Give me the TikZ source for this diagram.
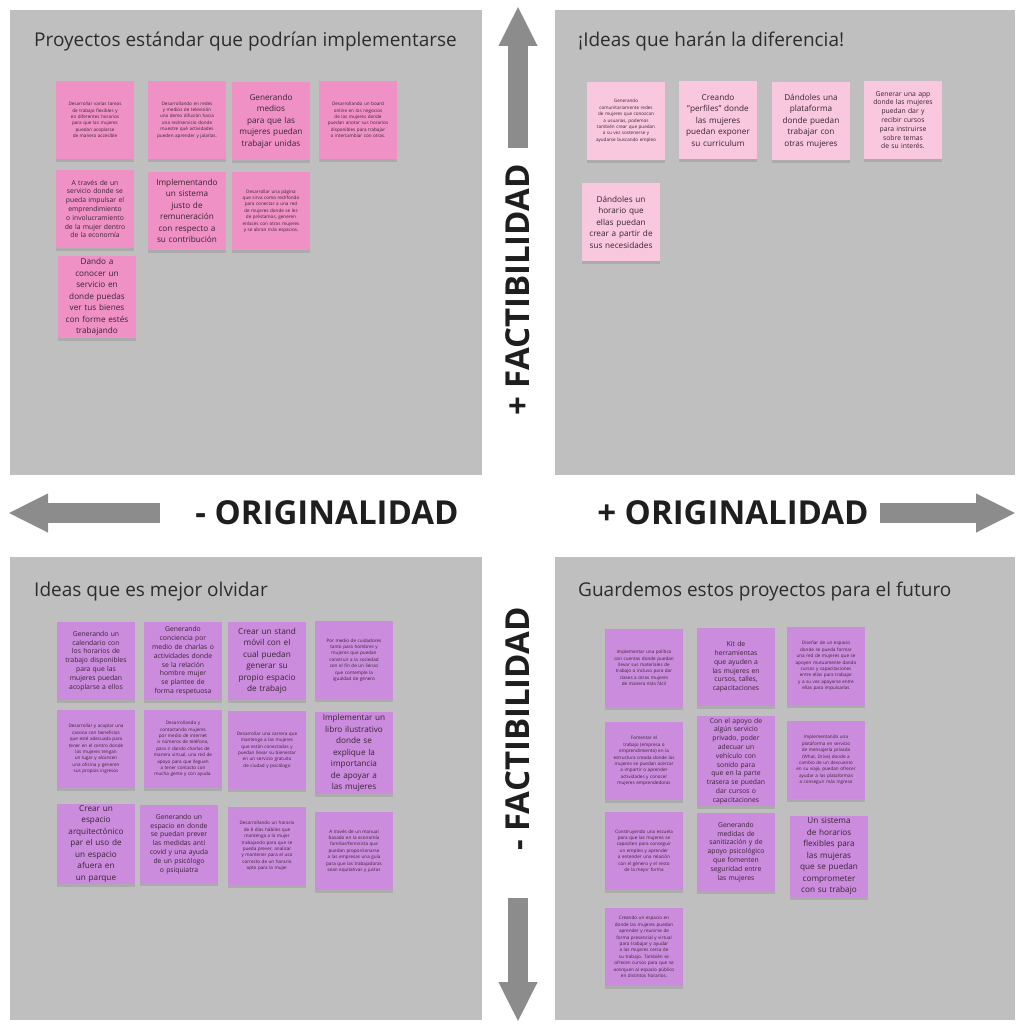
\documentclass[tikz,border=0pt]{standalone}
\usepackage{fontspec}
\setmainfont{Open Sans}
\usetikzlibrary{arrows.meta,shadows}
\definecolor{panelgray}{RGB}{191,191,191}
\definecolor{arrowgray}{RGB}{140,140,140}
\definecolor{labeltext}{RGB}{30,30,30}
\definecolor{titletext}{RGB}{45,45,45}
\definecolor{notetext}{RGB}{55,35,50}
\definecolor{notepink}{RGB}{240,145,198}
\definecolor{notelight}{RGB}{250,200,222}
\definecolor{noteviolet}{RGB}{204,140,222}
\hyphenpenalty=10000
\exhyphenpenalty=10000

\begin{document}
\begin{tikzpicture}[x=1pt,y=-1pt,
	note/.style={minimum width=78pt, minimum height=78pt, inner sep=2pt, align=center, text=notetext, drop shadow={shadow xshift=0pt, shadow yshift=-3pt, opacity=0.3}},
	pinknote/.style={note, fill=notepink},
	lightnote/.style={note, fill=notelight},
	violetnote/.style={note, fill=noteviolet},
	bigtext/.style={text width=64pt, font=\fontsize{8.2}{11.5}\selectfont},
	midtext/.style={text width=62pt, font=\fontsize{6.8}{8.8}\selectfont},
	smalltext/.style={text width=62pt, font=\fontsize{4.6}{6.4}\selectfont},
	bigarrow/.style={line width=20pt, draw=arrowgray, -{Triangle[length=40pt, width=36pt]}},
	axislabel/.style={font=\bfseries\fontsize{33}{36}\selectfont, text=labeltext},
	quadtitle/.style={anchor=west, inner sep=0pt, font=\fontsize{19}{23}\selectfont, text=titletext}]
						\useasboundingbox (0,0) rectangle (1015,1025);
						\fill[panelgray] (10,10) rectangle (482,475);
						\fill[panelgray] (555,10) rectangle (1015,475);
						\fill[panelgray] (10,557) rectangle (482,1020);
						\fill[panelgray] (555,557) rectangle (1015,1020);
						\node[quadtitle] (tltitle) at (34,42) {Proyectos estándar que podrían implementarse};
						\node[quadtitle] (trtitle) at (578,42) {¡Ideas que harán la diferencia!};
						\node[quadtitle] (bltitle) at (34,592) {Ideas que es mejor olvidar};
						\node[quadtitle] (brtitle) at (578,592) {Guardemos estos proyectos para el futuro};
						\coordinate (up0) at (518,148);
						\coordinate (up1) at (518,6);
						\coordinate (down0) at (518,898);
						\coordinate (down1) at (518,1022);
						\coordinate (left0) at (160,513);
						\coordinate (left1) at (8,513);
						\coordinate (right0) at (880,513);
						\coordinate (right1) at (1016,513);
						\draw[bigarrow] (up0) -- (up1);
						\draw[bigarrow] (down0) -- (down1);
						\draw[bigarrow] (left0) -- (left1);
						\draw[bigarrow] (right0) -- (right1);
						\node[axislabel, rotate=90] (factplus) at (518,290) {+ FACTIBILIDAD};
						\node[axislabel, rotate=90] (factminus) at (518,729) {- FACTIBILIDAD};
						\node[axislabel] (origminus) at (327,513) {- ORIGINALIDAD};
						\node[axislabel] (origplus) at (733,513) {+ ORIGINALIDAD};
						\node[pinknote, smalltext] (tl1) at (95,120) {Desarrollar varias tareas de trabajo flexibles y en diferentes horarios para que las mujeres puedan acoplarse de manera accesible};
						\node[pinknote, smalltext] (tl2) at (187,120) {Desarrollando en redes y medios de televisión una demo difusión hacia una red/servicio donde muestre qué actividades pueden aprender y jalarlas.};
						\node[pinknote, bigtext] (tl3) at (271,121) {Generando medios para que las mujeres puedan trabajar unidas};
						\node[pinknote, smalltext] (tl4) at (358,120) {Desarrollando un board online en los negocios de las mujeres donde puedan anotar sus horarios disponibles para trabajar o intercambiar con otras.};
						\node[pinknote, midtext] (tl5) at (95,209) {A través de un servicio donde se pueda impulsar el emprendimiento o involucramiento de la mujer dentro de la economía};
						\node[pinknote, bigtext] (tl6) at (187,211) {Implementando un sistema justo de remuneración con respecto a su contribución};
						\node[pinknote, smalltext] (tl7) at (271,211) {Desarrollar una página que sirva como red/fondo para conectar a una red de mujeres donde se les de préstamos, generen enlaces con otras mujeres y se abran más espacios.};
						\node[pinknote, bigtext] (tl8) at (97,297) {Dando a conocer un servicio en donde puedas ver tus bienes con forme estés trabajando};
						\node[lightnote, smalltext] (tr1) at (626,121) {Generando comunitariamente redes de mujeres que conozcan a usuarias, podemos también crear que puedan a su vez sostenerse y ayudarse buscando empleo};
						\node[lightnote, bigtext] (tr2) at (718,120) {Creando "perfiles" donde las mujeres puedan exponer su curriculum};
						\node[lightnote, bigtext] (tr3) at (811,121) {Dándoles una plataforma donde puedan trabajar con otras mujeres};
						\node[lightnote, midtext] (tr4) at (903,120) {Generar una app donde las mujeres puedan dar y recibir cursos para instruirse sobre temas de su interés.};
						\node[lightnote, bigtext] (tr5) at (621,222) {Dándoles un horario que ellas puedan crear a partir de sus necesidades};
						\node[violetnote, midtext] (bl1) at (96,661) {Generando un calendario con los horarios de trabajo disponibles para que las mujeres puedan acoplarse a ellos};
						\node[violetnote, midtext] (bl2) at (183,661) {Generando conciencia por medio de charlas o actividades donde se la relación hombre mujer se plantee de forma respetuosa};
						\node[violetnote, bigtext] (bl3) at (267,661) {Crear un stand móvil con el cual puedan generar su propio espacio de trabajo};
						\node[violetnote, smalltext] (bl4) at (354,660) {Por medio de cuidadores tanto para hombres y mujeres que puedan construir a la sociedad con el fin de un lienzo que contemple la igualdad de género};
						\node[violetnote, smalltext] (bl5) at (96,749) {Desarrollar y acoplar una casona con beneficios que esté adecuada para tener en el centro donde las mujeres tengan un lugar y alcancen una oficina y generen sus propios ingresos};
						\node[violetnote, smalltext] (bl6) at (183,749) {Desarrollando y contactando mujeres por medio de internet o números de teléfono, para ir dando charlas de manera virtual, una red de apoyo para que lleguen a tener contacto con mucha gente y con ayuda.};
						\node[violetnote, smalltext] (bl7) at (267,750) {Desarrollar una carrera que mantenga a las mujeres que están conectadas y puedan llevar su bienestar en un servicio gratuito de ciudad y psicólogo};
						\node[violetnote, bigtext] (bl8) at (354,753) {Implementar un libro ilustrativo donde se explique la importancia de apoyar a las mujeres};
						\node[violetnote, bigtext] (bl9) at (96,844) {Crear un espacio arquitectónico par el uso de un espacio afuera en un parque};
						\node[violetnote, midtext] (bl10) at (179,844) {Generando un espacio en donde se puedan prever las medidas anti covid y una ayuda de un psicólogo o psiquiatra};
						\node[violetnote, smalltext] (bl11) at (267,846) {Desarrollando un horario de 8 días hábiles que mantenga a la mujer trabajando para que se pueda prever, analizar y mantener para el uso correcto de un horario apto para la mujer};
						\node[violetnote, smalltext] (bl12) at (354,851) {A través de un manual basado en la economía familiar/feminista que puedan proporcionarse a las empresas una guía para que las trabajadoras sean equitativas y justas};
						\node[violetnote, smalltext] (br1) at (644,668) {Implementar una política con cuentas donde puedan llevar sus materiales de trabajo o incluso para dar clases a otras mujeres de manera más fácil};
						\node[violetnote, midtext] (br2) at (736,667) {Kit de herramientas que ayuden a las mujeres en cursos, talles, capacitaciones};
						\node[violetnote, smalltext] (br3) at (826,666) {Diseñar de un espacio donde se pueda formar una red de mujeres que se apoyen mutuamente dando cursos y capacitaciones entre ellas para trabajar y a su vez apoyarse entre ellas para impulsarlas};
						\node[violetnote, smalltext] (br4) at (644,761) {Fomentar el trabajo (empresa o emprendimiento) en la estructura creada donde las mujeres se puedan acercar a impartir o aprender actividades y conocer mujeres emprendedoras};
						\node[violetnote, midtext] (br5) at (736,761) {Con el apoyo de algún servicio privado, poder adecuar un vehículo con sonido para que en la parte trasera se puedan dar cursos o capacitaciones};
						\node[violetnote, smalltext] (br6) at (826,760) {Implementando una plataforma en servicio de mensajería privada (What, Drive) donde a cambio de un descuento en su viaje, puedan ofrecer ayudar a las plataformas a conseguir más ingreso};
						\node[violetnote, smalltext] (br7) at (644,851) {Construyendo una escuela para que las mujeres se capaciten para conseguir un empleo y aprender a entender una relación con el género y el resto de la mejor forma};
						\node[violetnote, midtext] (br8) at (736,852) {Generando medidas de sanitización y de apoyo psicológico que fomenten seguridad entre las mujeres};
						\node[violetnote, bigtext] (br9) at (829,856) {Un sistema de horarios flexibles para las mujeras que se puedan comprometer con su trabajo};
						\node[violetnote, smalltext] (br10) at (644,947) {Creando un espacio en donde las mujeres puedan aprender y reunirse de forma presencial y virtual para trabajar y ayudar a las mujeres cerca de su trabajo. También se ofrecen cursos para que se acerquen al espacio público en distintos horarios.};
				\end{tikzpicture}
\end{document}
